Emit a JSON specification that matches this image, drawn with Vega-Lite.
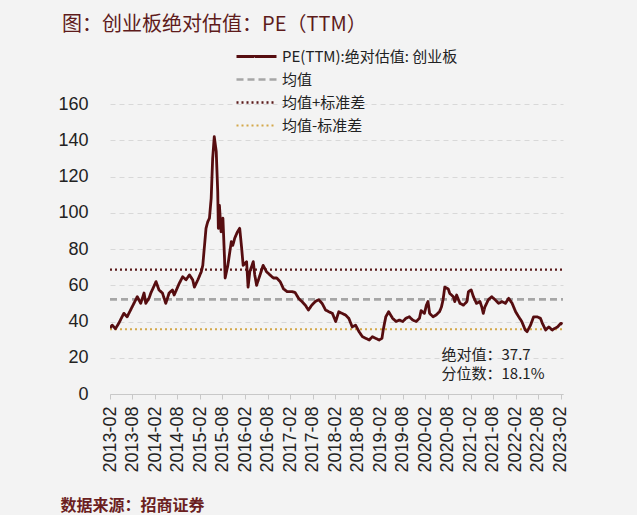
{
  "$schema": "https://vega.github.io/schema/vega-lite/v6.json",
  "width": 453,
  "height": 290,
  "autosize": {"type": "none"},
  "padding": {"left": 110, "top": 104, "right": 74, "bottom": 121},
  "background": "#f3f3f3",
  "config": {"view": {"stroke": null, "fill": "#f3f3f3"}, "font": "Noto Sans CJK SC"},
  "title": {"text": "图：创业板绝对估值：PE（TTM）", "anchor": "start", "frame": "group", "dx": -48, "offset": 14, "fontSize": 20, "fontWeight": "normal", "color": "#5e1b1b", "font": "Noto Sans CJK SC"},
  "data": {"values": [
    {"d": "2013-02-01", "v": 52.2, "s": "均值"}, {"d": "2023-02-20", "v": 52.2, "s": "均值"},
    {"d": "2013-02-01", "v": 68.6, "s": "均值+标准差"}, {"d": "2023-02-20", "v": 68.6, "s": "均值+标准差"},
    {"d": "2013-02-01", "v": 35.7, "s": "均值-标准差"}, {"d": "2023-02-20", "v": 35.7, "s": "均值-标准差"},
    {"d": "2013-02-01", "v": 36.4, "s": "PE"}, {"d": "2013-02-19", "v": 38, "s": "PE"}, {"d": "2013-03-17", "v": 36, "s": "PE"}, {"d": "2013-04-13", "v": 39, "s": "PE"},
    {"d": "2013-05-24", "v": 44.5, "s": "PE"}, {"d": "2013-06-20", "v": 42.6, "s": "PE"}, {"d": "2013-07-30", "v": 48, "s": "PE"}, {"d": "2013-09-10", "v": 53.7, "s": "PE"},
    {"d": "2013-10-08", "v": 50, "s": "PE"}, {"d": "2013-11-04", "v": 55.7, "s": "PE"}, {"d": "2013-11-18", "v": 50, "s": "PE"}, {"d": "2013-12-15", "v": 53, "s": "PE"},
    {"d": "2013-12-29", "v": 55.7, "s": "PE"}, {"d": "2014-02-09", "v": 62, "s": "PE"}, {"d": "2014-03-05", "v": 57.4, "s": "PE"}, {"d": "2014-04-02", "v": 55.7, "s": "PE"},
    {"d": "2014-04-29", "v": 50, "s": "PE"}, {"d": "2014-05-26", "v": 55.7, "s": "PE"}, {"d": "2014-06-22", "v": 57.4, "s": "PE"}, {"d": "2014-07-06", "v": 54.6, "s": "PE"},
    {"d": "2014-08-16", "v": 61, "s": "PE"}, {"d": "2014-09-13", "v": 64.7, "s": "PE"}, {"d": "2014-10-10", "v": 63, "s": "PE"}, {"d": "2014-11-07", "v": 65.7, "s": "PE"},
    {"d": "2014-12-03", "v": 63, "s": "PE"}, {"d": "2014-12-17", "v": 59, "s": "PE"}, {"d": "2015-01-14", "v": 63, "s": "PE"}, {"d": "2015-02-11", "v": 67.5, "s": "PE"},
    {"d": "2015-02-23", "v": 71, "s": "PE"}, {"d": "2015-03-21", "v": 91.4, "s": "PE"}, {"d": "2015-04-04", "v": 95, "s": "PE"}, {"d": "2015-04-18", "v": 97, "s": "PE"},
    {"d": "2015-05-02", "v": 108, "s": "PE"}, {"d": "2015-05-14", "v": 130, "s": "PE"}, {"d": "2015-05-27", "v": 142, "s": "PE"}, {"d": "2015-06-12", "v": 133.7, "s": "PE"},
    {"d": "2015-06-24", "v": 111.6, "s": "PE"}, {"d": "2015-06-29", "v": 91.4, "s": "PE"}, {"d": "2015-07-08", "v": 104, "s": "PE"}, {"d": "2015-07-21", "v": 89.5, "s": "PE"},
    {"d": "2015-08-05", "v": 97, "s": "PE"}, {"d": "2015-08-18", "v": 75, "s": "PE"}, {"d": "2015-08-23", "v": 64, "s": "PE"}, {"d": "2015-09-14", "v": 71, "s": "PE"},
    {"d": "2015-10-12", "v": 84, "s": "PE"}, {"d": "2015-10-24", "v": 82, "s": "PE"}, {"d": "2015-11-09", "v": 86, "s": "PE"}, {"d": "2015-12-01", "v": 89.5, "s": "PE"},
    {"d": "2015-12-19", "v": 91.4, "s": "PE"}, {"d": "2016-01-04", "v": 80.4, "s": "PE"}, {"d": "2016-01-16", "v": 71, "s": "PE"}, {"d": "2016-02-13", "v": 73, "s": "PE"},
    {"d": "2016-02-25", "v": 59, "s": "PE"}, {"d": "2016-03-10", "v": 67.5, "s": "PE"}, {"d": "2016-04-07", "v": 73, "s": "PE"}, {"d": "2016-04-19", "v": 65.7, "s": "PE"},
    {"d": "2016-05-04", "v": 60, "s": "PE"}, {"d": "2016-06-01", "v": 65.7, "s": "PE"}, {"d": "2016-06-26", "v": 71, "s": "PE"}, {"d": "2016-07-23", "v": 67.5, "s": "PE"},
    {"d": "2016-08-20", "v": 65.7, "s": "PE"}, {"d": "2016-09-17", "v": 64, "s": "PE"}, {"d": "2016-10-14", "v": 64, "s": "PE"}, {"d": "2016-11-11", "v": 62, "s": "PE"},
    {"d": "2016-12-08", "v": 58, "s": "PE"}, {"d": "2017-01-06", "v": 56.5, "s": "PE"}, {"d": "2017-02-15", "v": 56.5, "s": "PE"}, {"d": "2017-03-12", "v": 56, "s": "PE"},
    {"d": "2017-04-09", "v": 52.8, "s": "PE"}, {"d": "2017-05-06", "v": 51, "s": "PE"}, {"d": "2017-06-03", "v": 49, "s": "PE"}, {"d": "2017-06-28", "v": 46.3, "s": "PE"},
    {"d": "2017-07-25", "v": 49, "s": "PE"}, {"d": "2017-08-23", "v": 51, "s": "PE"}, {"d": "2017-09-19", "v": 52, "s": "PE"}, {"d": "2017-10-17", "v": 50, "s": "PE"},
    {"d": "2017-11-14", "v": 46.3, "s": "PE"}, {"d": "2017-12-10", "v": 45.4, "s": "PE"}, {"d": "2018-01-08", "v": 44.5, "s": "PE"}, {"d": "2018-02-04", "v": 40, "s": "PE"},
    {"d": "2018-03-01", "v": 45.4, "s": "PE"}, {"d": "2018-03-27", "v": 44.5, "s": "PE"}, {"d": "2018-04-24", "v": 43.6, "s": "PE"}, {"d": "2018-05-21", "v": 41.8, "s": "PE"},
    {"d": "2018-06-18", "v": 37, "s": "PE"}, {"d": "2018-07-15", "v": 38, "s": "PE"}, {"d": "2018-08-12", "v": 34.4, "s": "PE"}, {"d": "2018-09-09", "v": 31.6, "s": "PE"},
    {"d": "2018-10-06", "v": 30.7, "s": "PE"}, {"d": "2018-11-03", "v": 29.8, "s": "PE"}, {"d": "2018-11-28", "v": 31.6, "s": "PE"}, {"d": "2018-12-25", "v": 30.7, "s": "PE"},
    {"d": "2019-01-22", "v": 29.8, "s": "PE"}, {"d": "2019-02-14", "v": 30.7, "s": "PE"}, {"d": "2019-02-24", "v": 35.3, "s": "PE"}, {"d": "2019-03-17", "v": 42.6, "s": "PE"},
    {"d": "2019-04-09", "v": 45.4, "s": "PE"}, {"d": "2019-05-11", "v": 41.8, "s": "PE"}, {"d": "2019-06-08", "v": 40, "s": "PE"}, {"d": "2019-07-05", "v": 40.8, "s": "PE"},
    {"d": "2019-08-02", "v": 40, "s": "PE"}, {"d": "2019-08-27", "v": 41.8, "s": "PE"}, {"d": "2019-09-24", "v": 42.6, "s": "PE"}, {"d": "2019-10-21", "v": 40.8, "s": "PE"},
    {"d": "2019-11-18", "v": 40, "s": "PE"}, {"d": "2019-12-15", "v": 41.8, "s": "PE"}, {"d": "2019-12-28", "v": 46, "s": "PE"}, {"d": "2020-01-24", "v": 44.5, "s": "PE"},
    {"d": "2020-02-09", "v": 49, "s": "PE"}, {"d": "2020-02-22", "v": 51, "s": "PE"}, {"d": "2020-03-06", "v": 44.5, "s": "PE"}, {"d": "2020-04-03", "v": 42.6, "s": "PE"},
    {"d": "2020-04-28", "v": 43.6, "s": "PE"}, {"d": "2020-05-25", "v": 45.4, "s": "PE"}, {"d": "2020-06-10", "v": 48, "s": "PE"}, {"d": "2020-06-23", "v": 52, "s": "PE"},
    {"d": "2020-07-07", "v": 59, "s": "PE"}, {"d": "2020-08-04", "v": 58, "s": "PE"}, {"d": "2020-08-16", "v": 55.5, "s": "PE"}, {"d": "2020-09-14", "v": 53.7, "s": "PE"},
    {"d": "2020-09-26", "v": 51, "s": "PE"}, {"d": "2020-10-11", "v": 54.6, "s": "PE"}, {"d": "2020-11-07", "v": 50, "s": "PE"}, {"d": "2020-12-05", "v": 49, "s": "PE"},
    {"d": "2021-01-02", "v": 51, "s": "PE"}, {"d": "2021-01-15", "v": 56.5, "s": "PE"}, {"d": "2021-02-06", "v": 57.4, "s": "PE"}, {"d": "2021-02-24", "v": 53.7, "s": "PE"},
    {"d": "2021-03-21", "v": 50, "s": "PE"}, {"d": "2021-04-18", "v": 51, "s": "PE"}, {"d": "2021-05-03", "v": 48, "s": "PE"}, {"d": "2021-05-15", "v": 44.5, "s": "PE"},
    {"d": "2021-05-28", "v": 48, "s": "PE"}, {"d": "2021-06-25", "v": 52, "s": "PE"}, {"d": "2021-07-22", "v": 53.7, "s": "PE"}, {"d": "2021-08-19", "v": 52, "s": "PE"},
    {"d": "2021-09-16", "v": 50, "s": "PE"}, {"d": "2021-10-13", "v": 51, "s": "PE"}, {"d": "2021-11-10", "v": 50, "s": "PE"}, {"d": "2021-12-07", "v": 52.8, "s": "PE"},
    {"d": "2022-01-04", "v": 50, "s": "PE"}, {"d": "2022-02-01", "v": 45.4, "s": "PE"}, {"d": "2022-02-26", "v": 42.6, "s": "PE"}, {"d": "2022-03-23", "v": 40, "s": "PE"},
    {"d": "2022-04-20", "v": 35.3, "s": "PE"}, {"d": "2022-05-05", "v": 34.4, "s": "PE"}, {"d": "2022-06-02", "v": 38, "s": "PE"}, {"d": "2022-06-27", "v": 42.6, "s": "PE"},
    {"d": "2022-07-24", "v": 42.6, "s": "PE"}, {"d": "2022-08-21", "v": 41.8, "s": "PE"}, {"d": "2022-09-06", "v": 39, "s": "PE"}, {"d": "2022-10-02", "v": 35.3, "s": "PE"},
    {"d": "2022-10-28", "v": 37, "s": "PE"}, {"d": "2022-11-25", "v": 35.3, "s": "PE"}, {"d": "2022-12-10", "v": 36, "s": "PE"}, {"d": "2023-01-06", "v": 37, "s": "PE"},
    {"d": "2023-02-03", "v": 39, "s": "PE"}, {"d": "2023-02-16", "v": 38.5, "s": "PE"}
  ]},
  "mark": {"type": "line", "strokeJoin": "round", "strokeCap": "butt", "clip": true},
  "encoding": {
    "x": {
      "field": "d", "type": "temporal",
      "scale": {"type": "utc", "domain": [{"year": 2013, "month": 2, "date": 1, "utc": true}, {"year": 2023, "month": 2, "date": 20, "utc": true}]},
      "axis": {
        "values": [
          {"year": 2013, "month": 2, "date": 1, "utc": true}, {"year": 2013, "month": 8, "date": 1, "utc": true},
          {"year": 2014, "month": 2, "date": 1, "utc": true}, {"year": 2014, "month": 8, "date": 1, "utc": true},
          {"year": 2015, "month": 2, "date": 1, "utc": true}, {"year": 2015, "month": 8, "date": 1, "utc": true},
          {"year": 2016, "month": 2, "date": 1, "utc": true}, {"year": 2016, "month": 8, "date": 1, "utc": true},
          {"year": 2017, "month": 2, "date": 1, "utc": true}, {"year": 2017, "month": 8, "date": 1, "utc": true},
          {"year": 2018, "month": 2, "date": 1, "utc": true}, {"year": 2018, "month": 8, "date": 1, "utc": true},
          {"year": 2019, "month": 2, "date": 1, "utc": true}, {"year": 2019, "month": 8, "date": 1, "utc": true},
          {"year": 2020, "month": 2, "date": 1, "utc": true}, {"year": 2020, "month": 8, "date": 1, "utc": true},
          {"year": 2021, "month": 2, "date": 1, "utc": true}, {"year": 2021, "month": 8, "date": 1, "utc": true},
          {"year": 2022, "month": 2, "date": 1, "utc": true}, {"year": 2022, "month": 8, "date": 1, "utc": true},
          {"year": 2023, "month": 2, "date": 1, "utc": true}
        ],
        "format": "%Y-%m",
        "labelAngle": -90,
        "labelFont": "Liberation Sans",
        "labelFontSize": 18,
        "labelColor": "#222222",
        "labelPadding": 7,
        "labelOverlap": false,
        "labelFlush": false,
        "ticks": true,
        "tickSize": 5,
        "tickColor": "#c8c8c8",
        "domainColor": "#c8c8c8",
        "grid": false,
        "title": "数据来源：招商证券",
        "titleFont": "Noto Sans CJK SC",
        "titleFontSize": 16,
        "titleFontWeight": "bold",
        "titleColor": "#6b1f1f",
        "titleAnchor": "start",
        "titleAlign": "left",
        "titleBaseline": "middle",
        "titleX": -50,
        "titleY": 111
      }
    },
    "y": {
      "field": "v", "type": "quantitative",
      "scale": {"domain": [0, 160], "nice": false, "zero": true},
      "axis": {
        "values": [0, 20, 40, 60, 80, 100, 120, 140, 160],
        "grid": true,
        "gridDash": [5, 4],
        "gridColor": "#d8d8d8",
        "domain": false,
        "ticks": false,
        "labelFont": "Liberation Sans",
        "labelFontSize": 18,
        "labelColor": "#222222",
        "labelPadding": 22,
        "title": ["绝对值：37.7", "分位数：18.1%"],
        "titleAngle": 0,
        "titleAlign": "left",
        "titleBaseline": "top",
        "titleX": 331,
        "titleY": 243,
        "titleFont": "Noto Sans CJK SC",
        "titleFontSize": 15,
        "titleFontWeight": "normal",
        "titleColor": "#222222",
        "titleLineHeight": 19
      }
    },
    "color": {
      "field": "s", "type": "nominal",
      "scale": {"domain": ["PE", "均值", "均值+标准差", "均值-标准差"], "range": ["#560d10", "#a6a6a6", "#5b1a1a", "#d4a84a"]},
      "legend": {
        "orient": "none", "legendX": 139, "legendY": -55, "title": null, "padding": 0,
        "symbolType": "M-4,0H4", "symbolSize": 100, "symbolStrokeWidth": 2,
        "labelExpr": "datum.value == 'PE' ? 'PE(TTM):绝对估值: 创业板' : datum.value",
        "labelFont": "Noto Sans CJK SC", "labelFontSize": 15, "labelColor": "#222222", "labelLimit": 400,
        "labelOffset": 18, "rowPadding": 7
      }
    },
    "strokeDash": {
      "field": "s", "type": "nominal",
      "scale": {"domain": ["PE", "均值", "均值+标准差", "均值-标准差"], "range": [[1, 0], [7, 4], [2, 3], [2, 3]]},
      "legend": {
        "orient": "none", "legendX": 139, "legendY": -55, "title": null, "padding": 0,
        "symbolType": "M-4,0H4", "symbolSize": 100, "symbolStrokeWidth": 2,
        "labelExpr": "datum.value == 'PE' ? 'PE(TTM):绝对估值: 创业板' : datum.value",
        "labelFont": "Noto Sans CJK SC", "labelFontSize": 15, "labelColor": "#222222", "labelLimit": 400,
        "labelOffset": 18, "rowPadding": 7
      }
    },
    "strokeWidth": {
      "field": "s", "type": "nominal",
      "scale": {"domain": ["PE", "均值", "均值+标准差", "均值-标准差"], "range": [2.8, 2, 2, 2]},
      "legend": null
    }
  }
}
